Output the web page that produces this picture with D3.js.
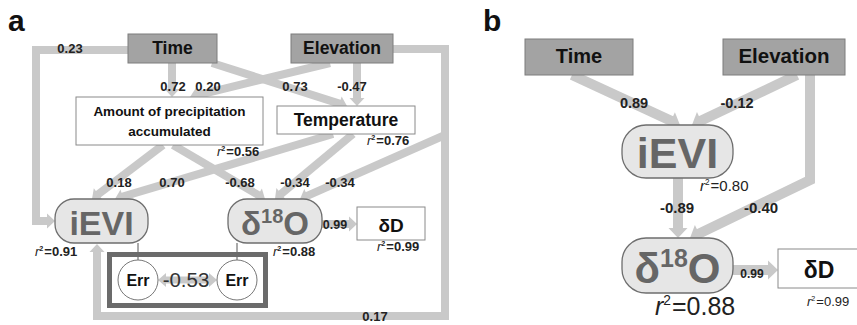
<!DOCTYPE html>
<html><head><meta charset="utf-8">
<script src="https://cdn.jsdelivr.net/npm/d3@7"></script>
<style>html,body{margin:0;padding:0;background:#fff;}svg{display:block;}</style>
</head><body><svg id="c" width="857" height="325"></svg>
<script>
// ---------- DATA ----------
const panelLabels = ["a", "b"];
const nodesA = ["Time", "Elevation", "Amount of precipitation|accumulated", "Temperature", "iEVI", "δ18O", "δD"];
const nodeIdsA = ["Time", "Elevation", "Precip", "Temperature", "iEVI", "d18O", "dD"];
const edgeFromA = ["Time", "Time", "Elevation", "Time", "Elevation", "Precip", "Temperature", "Precip", "Temperature", "Elevation", "d18O", "Elevation"];
const edgeToA   = ["iEVI", "Precip", "Precip", "Temperature", "Temperature", "iEVI", "iEVI", "d18O", "d18O", "d18O", "dD", "iEVI"];
const coefA     = [0.23, 0.72, 0.20, 0.73, -0.47, 0.18, 0.70, -0.68, -0.34, -0.34, 0.99, 0.17];
const r2NodesA  = ["Precip", "Temperature", "iEVI", "d18O", "dD"];
const r2A       = [0.56, 0.76, 0.91, 0.88, 0.99];
const errLabel  = "Err";
const errCorrA  = -0.53;

const nodesB = ["Time", "Elevation", "iEVI", "δ18O", "δD"];
const nodeIdsB = ["Time", "Elevation", "iEVI", "d18O", "dD"];
const edgeFromB = ["Time", "Elevation", "iEVI", "Elevation", "d18O"];
const edgeToB   = ["iEVI", "iEVI", "d18O", "d18O", "dD"];
const coefB     = [0.89, -0.12, -0.89, -0.40, 0.99];
const r2NodesB  = ["iEVI", "d18O", "dD"];
const r2B       = [0.80, 0.88, 0.99];

// ---------- LAYOUT (positions / styles) ----------
const FONT = '"Liberation Sans", Arial, Helvetica, sans-serif';
const LINE = "#c9c9c9";
const layoutA = {
  lw: 8, headW: 15, headL: 8, labelSize: 13,
  nodes: {
    Time:        {x:128, y:34, w:89,  h:29, type:"exo",  size:17.5, base:54},
    Elevation:   {x:291, y:34, w:102, h:29, type:"exo",  size:17.5, base:54},
    Precip:      {x:76,  y:97, w:187, h:48, type:"box",  size:13.5, base:116, lineH:20},
    Temperature: {x:277, y:106,w:138, h:28, type:"box",  size:17.5, base:126},
    iEVI:        {x:55,  y:199,w:93,  h:44, type:"pill", size:34, base:235, rx:19},
    d18O:        {x:228, y:199,w:94,  h:44, type:"pill", size:33, sup:20, base:235, rx:19},
    dD:          {x:357, y:207,w:68,  h:33, type:"box",  size:19, base:232}
  },
  routes: [
    [[128,50],[36,50],[36,221],[55,221]],
    [[172,63],[172,97]],
    [[330,63],[190,97]],
    [[212,63],[347,106]],
    [[357,63],[357,106]],
    [[163,145],[92,199]],
    [[333,134],[115,199]],
    [[173,145],[265,199]],
    [[353,134],[275,199]],
    [[445,135],[300,199]],
    [[322,224],[357,224]],
    [[393,49],[445,49],[445,316],[97,316],[97,244]]
  ],
  labels: [[70,53],[173,91],[208,91],[295,91],[352,91],[119,187],[172,187],[240,187],[295,187],[340,187],[335,229],[375,321]],
  labelSizes: [13,13,13,13,13,13,13,13,13,13,12.5,13],
  r2: [[217,156,13],[367,145,13],[35,256,13],[273,256,13],[377,251,13]],
  errBox: {x:109.5, y:254.5, w:156, h:51},
  errCircles: [[138,280],[237,280]], errR: 20,
  errLinks: [[[138,243],[138,260]],[[237,243],[237,260]]],
  errArrow: [[158,280],[217,280]],
  errLabel: [186,287]
};
const layoutB = {
  lw: 10, headW: 19, headL: 10,
  nodes: {
    Time:      {x:525, y:39, w:108, h:36, type:"exo", size:20, base:63},
    Elevation: {x:723, y:39, w:122, h:36, type:"exo", size:20.5, base:63},
    iEVI:      {x:622, y:125,w:111, h:53, type:"pill", size:43, base:168, rx:24},
    d18O:      {x:622, y:238,w:111, h:55, type:"pill", size:42, sup:25, base:283, rx:24},
    dD:        {x:778, y:249,w:100, h:39, type:"box", size:23, base:278, tx:819}
  },
  routes: [
    [[572,75],[680,125]],
    [[797,75],[692,125]],
    [[678,178],[678,238]],
    [[810,75],[810,180],[690,238]],
    [[733,270],[778,270]]
  ],
  labels: [[634,108],[737,108],[677,213],[761,213],[752,278]],
  labelSizes: [14.5,14.5,15,15,12],
  r2: [[700,191,15],[655,315,25],[807,306,13]]
};

// ---------- DRAW ----------
const svg = d3.select("#c").style("font-family", FONT);
const sx = d3.scaleIdentity(), sy = d3.scaleIdentity();
const lineGen = d3.line().x(d => sx(d[0])).y(d => sy(d[1]));
const fmt = v => d3.format(".2f")(v).replace("\u2212", "-");

function head(p1, p2, w, l) {
  const dx = p2[0]-p1[0], dy = p2[1]-p1[1], L = Math.hypot(dx, dy), ux = dx/L, uy = dy/L;
  const b = [p2[0]-ux*l, p2[1]-uy*l];
  return {base: [b[0]+ux*0.8, b[1]+uy*0.8],
          poly: [p2, [b[0]-uy*w/2, b[1]+ux*w/2], [b[0]+uy*w/2, b[1]-ux*w/2]]};
}
function drawArrow(g, pts, lay, both) {
  const n = pts.length;
  const hEnd = head(pts[n-2], pts[n-1], lay.headW, lay.headL);
  let p = pts.slice(0, n-1).concat([hEnd.base]);
  const heads = [hEnd.poly];
  if (both) {
    const hS = head(pts[1], pts[0], lay.headW, lay.headL);
    p[0] = hS.base; heads.push(hS.poly);
  }
  g.append("path").attr("d", lineGen(p)).attr("fill", "none").attr("stroke", LINE)
    .attr("stroke-width", lay.lw).attr("stroke-linejoin", "miter");
  heads.forEach(h => g.append("path").attr("d", lineGen(h) + "Z").attr("fill", LINE));
}
function drawNode(g, id, label, nd) {
  const fill = nd.type === "exo" ? "#a3a3a3" : nd.type === "pill" ? "#e6e6e6" : "#fff";
  const stroke = nd.type === "exo" ? "#7d7d7d" : nd.type === "pill" ? "#6e6e6e" : "#8a8a8a";
  g.append("rect").attr("x", sx(nd.x)).attr("y", sy(nd.y)).attr("width", nd.w).attr("height", nd.h)
    .attr("rx", nd.rx || 0).attr("fill", fill).attr("stroke", stroke).attr("stroke-width", nd.type === "pill" ? 1.3 : 1);
  const cx = nd.tx || nd.x + nd.w/2;
  const color = nd.type === "pill" ? "#666" : "#111";
  if (nd.sup) {
    // δ 18 O
    const m = label.match(/^(\D+)(\d+)(\D+)$/);
    const t = g.append("text").attr("x", cx).attr("y", nd.base).attr("text-anchor", "middle")
      .attr("font-weight", "bold").attr("fill", color).attr("font-size", nd.size);
    t.append("tspan").text(m[1]);
    t.append("tspan").attr("font-size", nd.sup).attr("dy", -nd.size*0.37).text(m[2]);
    t.append("tspan").attr("dy", nd.size*0.37).text(m[3]);
  } else {
    label.split("|").forEach((s, i) => {
      g.append("text").attr("x", cx).attr("y", nd.base + i*(nd.lineH || 0)).attr("text-anchor", "middle")
        .attr("font-weight", "bold").attr("fill", color).attr("font-size", nd.size).text(s);
    });
  }
}
function drawR2(g, v, pos, bold) {
  const t = g.append("text").attr("x", pos[0]).attr("y", pos[1]).attr("font-size", pos[2])
    .attr("fill", "#222").attr("font-weight", bold ? "bold" : "normal");
  t.append("tspan").attr("font-style", "italic").attr("font-weight", "normal").text("r");
  t.append("tspan").attr("font-size", pos[2]*0.55).attr("dy", -pos[2]*0.42).text("2");
  t.append("tspan").attr("dy", pos[2]*0.42).attr("dx", 1).text("=" + d3.format(".2f")(v));
}
function drawPanel(g, lay, nodes, ids, from, to, coef, r2Nodes, r2, bold) {
  lay.routes.forEach((r, i) => drawArrow(g, r, lay, false));
  ids.forEach((id, i) => drawNode(g, id, nodes[i], lay.nodes[id]));
  coef.forEach((c, i) => {
    g.append("text").attr("x", lay.labels[i][0]).attr("y", lay.labels[i][1]).attr("text-anchor", "middle")
      .attr("font-size", lay.labelSizes[i]).attr("font-weight", "bold").attr("fill", "#222").text(fmt(c));
  });
  r2Nodes.forEach((id, i) => drawR2(g, r2[i], lay.r2[i], bold));
}

// panel labels
svg.append("text").attr("x", 8).attr("y", 31).attr("font-size", 30).attr("font-weight", "bold").attr("fill", "#111").text(panelLabels[0]);
svg.append("text").attr("x", 483).attr("y", 31).attr("font-size", 30).attr("font-weight", "bold").attr("fill", "#111").text(panelLabels[1]);

// panel a
const gA = svg.append("g");
drawPanel(gA, layoutA, nodesA, nodeIdsA, edgeFromA, edgeToA, coefA, r2NodesA, r2A, true);
// error terms
layoutA.errLinks.forEach(l => gA.append("path").attr("d", lineGen(l)).attr("stroke", "#555").attr("stroke-width", 1));
gA.append("rect").attr("x", layoutA.errBox.x).attr("y", layoutA.errBox.y).attr("width", layoutA.errBox.w)
  .attr("height", layoutA.errBox.h).attr("fill", "none").attr("stroke", "#6b6b6b").attr("stroke-width", 5);
drawArrow(gA, layoutA.errArrow, {lw: 7, headW: 14, headL: 8}, true);
layoutA.errCircles.forEach(c => {
  gA.append("circle").attr("cx", c[0]).attr("cy", c[1]).attr("r", layoutA.errR).attr("fill", "#fff").attr("stroke", "#777");
  gA.append("text").attr("x", c[0]).attr("y", c[1] + 5.5).attr("text-anchor", "middle").attr("font-size", 16)
    .attr("font-weight", "bold").attr("fill", "#111").text(errLabel);
});
gA.append("text").attr("x", layoutA.errLabel[0]).attr("y", layoutA.errLabel[1]).attr("text-anchor", "middle")
  .attr("font-size", 20.5).attr("fill", "#333").text(fmt(errCorrA));

// panel b
const gB = svg.append("g");
drawPanel(gB, layoutB, nodesB, nodeIdsB, edgeFromB, edgeToB, coefB, r2NodesB, r2B, false);
</script></body></html>
